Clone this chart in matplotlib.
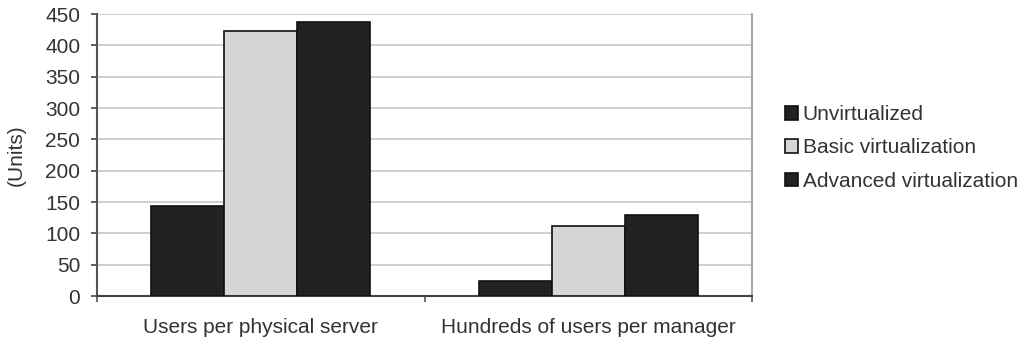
import matplotlib
matplotlib.use('Agg')
import matplotlib.pyplot as plt
import numpy as np

plt.rcParams['font.family'] = ['Liberation Sans', 'DejaVu Sans']

categories = ['Users per physical server', 'Hundreds of users per manager']
series_names = ['Unvirtualized', 'Basic virtualization', 'Advanced virtualization']
unvirtualized = [143, 24]
basic = [423, 112]
advanced = [437, 130]
yticks = [0, 50, 100, 150, 200, 250, 300, 350, 400, 450]

fig = plt.figure(figsize=(10.29, 3.44), dpi=100)
ax = fig.add_axes([97 / 1029, 48 / 344, (752 - 97) / 1029, (296 - 14) / 344])

x = np.arange(len(categories))
w = 0.223
colors = ['#222222', '#d6d6d6', '#222222']
for i, (vals, name) in enumerate(zip([unvirtualized, basic, advanced], series_names)):
    ax.bar(x + (i - 1) * w, vals, w, color=colors[i], edgecolor='#111111',
           linewidth=1.2, label=name, zorder=3)

txt = '#333333'
ax.set_xlim(-0.5, 1.5)
ax.set_ylim(0, 450)
ax.set_yticks(yticks)
ax.tick_params(axis='y', labelsize=15, labelcolor=txt, length=4, width=1.2,
               color='#444444', pad=8)
ax.set_xticks(x)
ax.set_xticklabels(categories, fontsize=15, color=txt)
ax.tick_params(axis='x', length=0, pad=16)
ax.set_xticks([-0.5, 0.5, 1.5], minor=True)
ax.tick_params(axis='x', which='minor', length=4, width=1.2, color='#555555')
ax.yaxis.grid(True, color='#cccccc', linewidth=1.3, zorder=0)
ax.set_axisbelow(True)
ax.set_ylabel('(Units)', fontsize=15, color=txt, labelpad=14)

ax.spines['top'].set_visible(False)
ax.spines['right'].set_color('#aaaaaa')
ax.spines['right'].set_linewidth(1.5)
ax.spines['left'].set_color('#555555')
ax.spines['left'].set_linewidth(1.5)
ax.spines['bottom'].set_color('#444444')
ax.spines['bottom'].set_linewidth(1.5)

leg = ax.legend(loc='center left', bbox_to_anchor=(1.022, 0.525), frameon=False,
                fontsize=15, handlelength=0.6, handleheight=0.6, handletextpad=0.25,
                labelspacing=0.68)
for t in leg.get_texts():
    t.set_color(txt)

fig.savefig('out.png', dpi=100)
